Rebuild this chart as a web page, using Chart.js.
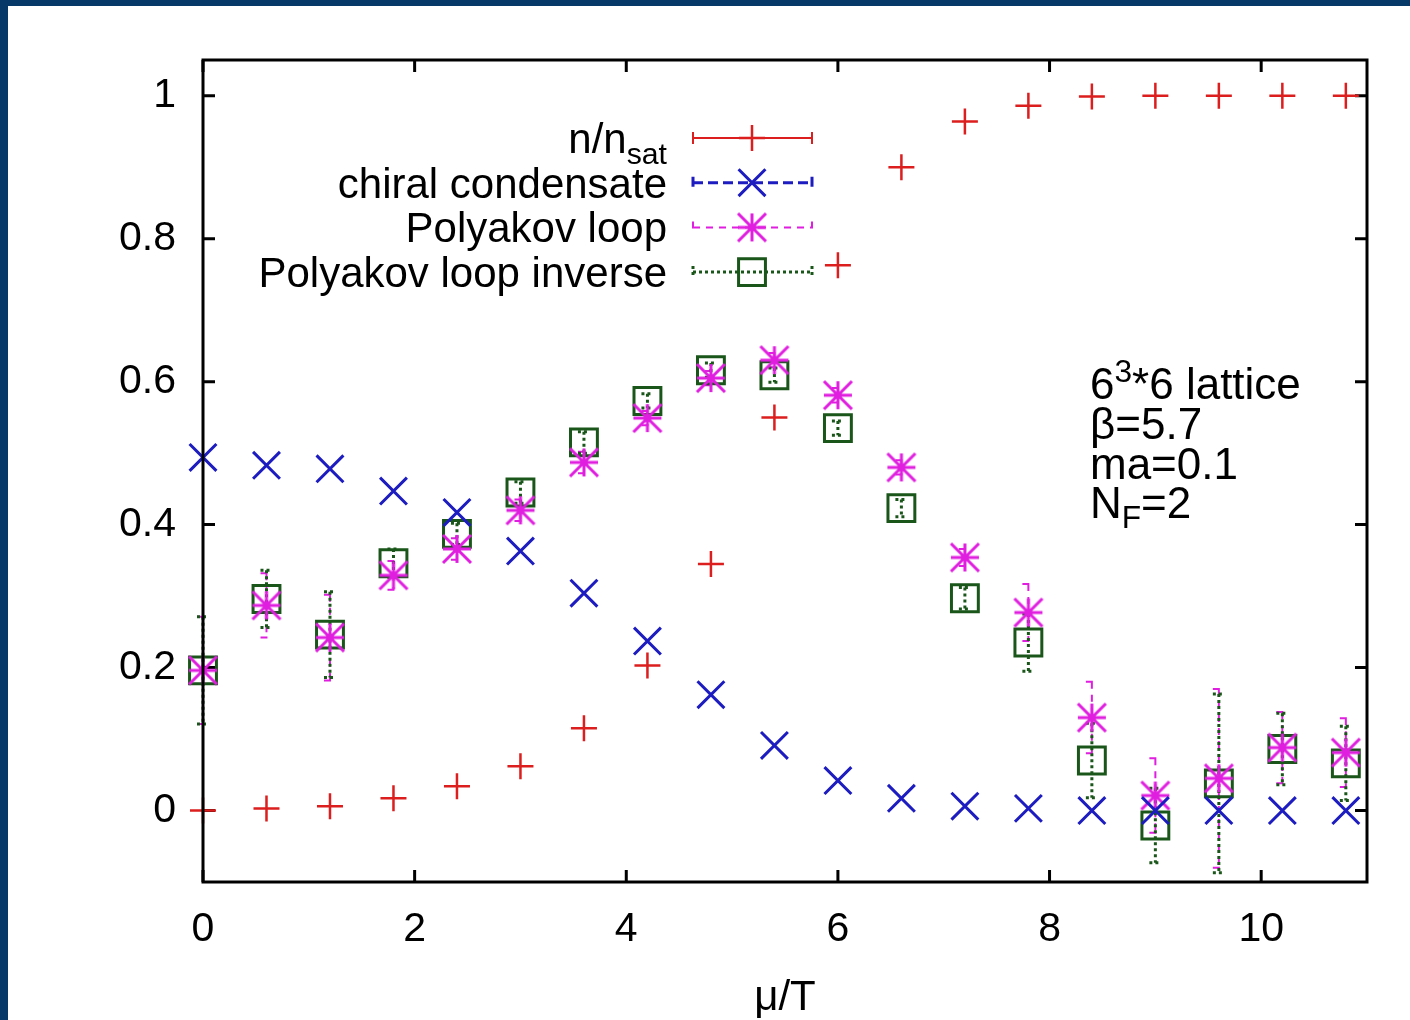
<!DOCTYPE html>
<html>
<head>
<meta charset="utf-8">
<script src="https://cdn.jsdelivr.net/npm/chart.js@4.4.0/dist/chart.umd.min.js"></script>
<style>
  html, body { margin: 0; padding: 0; width: 1410px; height: 1020px; overflow: hidden; background: #063868; }
  #frame { position: absolute; left: 8px; top: 6px; width: 1402px; height: 1014px; background: #fff; }
</style>
</head>
<body>
<div id="frame"><canvas id="myChart" width="1402" height="1014"></canvas></div>
<script>
// mu/T values of the runs
const mu = [0, 0.6, 1.2, 1.8, 2.4, 3.0, 3.6, 4.2, 4.8, 5.4, 6.0, 6.6, 7.2, 7.8, 8.4, 9.0, 9.6, 10.2, 10.8];

const nSat = [0, 0.003, 0.006, 0.017, 0.034, 0.062, 0.115, 0.203, 0.345, 0.55, 0.763, 0.90, 0.964, 0.986, 0.999, 1.0, 1.0, 1.0, 1.0];
const nSatErr = [0, 0, 0, 0, 0, 0, 0, 0, 0, 0, 0, 0, 0, 0, 0, 0, 0, 0, 0];

const chiral = [0.494, 0.483, 0.478, 0.447, 0.417, 0.363, 0.304, 0.237, 0.162, 0.091, 0.042, 0.017, 0.006, 0.003, 0, 0, 0, 0, 0];
const chiralErr = [0, 0, 0, 0, 0, 0, 0, 0, 0, 0, 0, 0, 0, 0, 0, 0, 0, 0, 0];

const poly = [0.196, 0.287, 0.242, 0.329, 0.366, 0.42, 0.487, 0.549, 0.605, 0.63, 0.581, 0.48, 0.354, 0.277, 0.13, 0.021, 0.045, 0.088, 0.081];
const polyErr = [0.075, 0.045, 0.06, 0.02, 0.015, 0.015, 0.015, 0.01, 0.01, 0.01, 0.01, 0.01, 0.012, 0.04, 0.05, 0.052, 0.125, 0.05, 0.048];

const polyInv = [0.196, 0.296, 0.246, 0.346, 0.387, 0.445, 0.515, 0.573, 0.616, 0.609, 0.535, 0.423, 0.297, 0.235, 0.07, -0.021, 0.038, 0.086, 0.066];
const polyInvErr = [0.075, 0.04, 0.06, 0.02, 0.015, 0.015, 0.015, 0.01, 0.01, 0.01, 0.01, 0.012, 0.015, 0.04, 0.052, 0.052, 0.125, 0.05, 0.052];

const seriesNames = ['n/n_sat', 'chiral condensate', 'Polyakov loop', 'Polyakov loop inverse'];
const xTicks = [0, 2, 4, 6, 8, 10];
const yTicks = [0, 0.2, 0.4, 0.6, 0.8, 1];

const FONT = "'Liberation Sans', Arial, Helvetica, sans-serif";

// gnuplot style asterisk: + and x of the same size
let starMarker = function(size, color, lw) {
  const c = document.createElement('canvas');
  c.width = c.height = size + lw * 2;
  const g = c.getContext('2d');
  const m = c.width / 2, h = size / 2;
  g.strokeStyle = color;
  g.lineWidth = lw;
  g.beginPath();
  g.moveTo(m - h, m); g.lineTo(m + h, m);
  g.moveTo(m, m - h); g.lineTo(m, m + h);
  g.moveTo(m - h, m - h); g.lineTo(m + h, m + h);
  g.moveTo(m - h, m + h); g.lineTo(m + h, m - h);
  g.stroke();
  return c;
}

let pairs = (ys) => ys.map((v, i) => ({x: mu[i], y: v}));

// inward ticks go under the marks, error bars too
const errorBars = {
  id: 'errorBars',
  beforeDatasetsDraw(chart) {
    const {ctx, chartArea: a, scales: {x, y}} = chart;
    ctx.save();
    ctx.strokeStyle = '#000';
    ctx.lineWidth = 3;
    ctx.beginPath();
    x.ticks.forEach(t => {
      const px = x.getPixelForValue(t.value);
      ctx.moveTo(px, a.bottom); ctx.lineTo(px, a.bottom - 12);
      ctx.moveTo(px, a.top); ctx.lineTo(px, a.top + 12);
    });
    y.ticks.forEach(t => {
      const py = y.getPixelForValue(t.value);
      ctx.moveTo(a.left, py); ctx.lineTo(a.left + 12, py);
      ctx.moveTo(a.right, py); ctx.lineTo(a.right - 12, py);
    });
    ctx.stroke();
    ctx.restore();

    chart.data.datasets.forEach(ds => {
      ctx.save();
      ctx.strokeStyle = ds.borderColor;
      ctx.lineWidth = ds.errWidth;
      ctx.setLineDash(ds.errDash);
      ds.data.forEach((p, i) => {
        const e = ds.errors[i];
        if (!e) return;
        const px = x.getPixelForValue(p.x);
        const top = y.getPixelForValue(p.y + e), bot = y.getPixelForValue(p.y - e);
        ctx.beginPath();
        ctx.moveTo(px, top); ctx.lineTo(px, bot);
        ctx.moveTo(px - 6, top); ctx.lineTo(px + 6, top);
        ctx.moveTo(px - 6, bot); ctx.lineTo(px + 6, bot);
        ctx.stroke();
      });
      ctx.restore();
    });
  }
};

// box around the plot
const frameBox = {
  id: 'frameBox',
  afterDatasetsDraw(chart) {
    const {ctx, chartArea: a} = chart;
    ctx.save();
    ctx.strokeStyle = '#000';
    ctx.lineWidth = 3;
    ctx.strokeRect(a.left, a.top, a.right - a.left, a.bottom - a.top);
    ctx.restore();
  }
};

// draws runs of text, some raised or lowered and smaller
let drawRuns = function(ctx, runs, x, y, size, align) {
  const width = runs.reduce((w, r) => {
    ctx.font = `${r.shift ? size * 0.72 : size}px ${FONT}`;
    return w + ctx.measureText(r.t).width;
  }, 0);
  let cx = align === 'right' ? x - width : x;
  runs.forEach(r => {
    ctx.font = `${r.shift ? size * 0.72 : size}px ${FONT}`;
    ctx.fillText(r.t, cx, y + (r.shift || 0));
    cx += ctx.measureText(r.t).width;
  });
}

const keyBox = {
  id: 'keyBox',
  afterDraw(chart) {
    const ctx = chart.ctx;
    ctx.save();
    ctx.textBaseline = 'alphabetic';
    chart.data.datasets.forEach((ds, i) => {
      const cy = 132 + i * 44.7;
      const parts = ds.label.split('_');
      const runs = [{t: parts[0]}];
      if (parts[1]) runs.push({t: parts[1], shift: 11});
      ctx.fillStyle = '#000';
      drawRuns(ctx, runs, 659, cy + 15, 42, 'right');
      ctx.strokeStyle = ds.borderColor;
      ctx.lineWidth = ds.errWidth;
      ctx.setLineDash(ds.errDash);
      ctx.beginPath();
      ctx.moveTo(685, cy); ctx.lineTo(804, cy);
      ctx.moveTo(685, cy - 6); ctx.lineTo(685, cy + 6);
      ctx.moveTo(804, cy - 6); ctx.lineTo(804, cy + 6);
      ctx.stroke();
      ctx.setLineDash([]);
      ctx.lineWidth = ds.borderWidth;
      ctx.fillStyle = 'rgba(0,0,0,0)';
      Chart.helpers.drawPoint(ctx, {
        pointStyle: ds.pointStyle, radius: ds.pointRadius, borderWidth: ds.borderWidth, rotation: 0
      }, 744, cy);
    });

    // run parameters
    ctx.fillStyle = '#000';
    drawRuns(ctx, [{t: '6'}, {t: '3', shift: -17}, {t: '*6 lattice'}], 1082, 393, 44);
    drawRuns(ctx, [{t: 'β=5.7'}], 1082, 433, 44);
    drawRuns(ctx, [{t: 'ma=0.1'}], 1082, 473, 44);
    drawRuns(ctx, [{t: 'N'}, {t: 'F', shift: 10}, {t: '=2'}], 1082, 512, 44);
    ctx.restore();
  }
};

let grapharea = document.getElementById('myChart');
let myChart = new Chart(grapharea, {
  type: 'scatter',
  data: {
    datasets: [
      {
        label: seriesNames[0], data: pairs(nSat), errors: nSatErr,
        borderColor: '#dc1e1e', backgroundColor: '#dc1e1e',
        pointStyle: 'cross', pointRadius: 13, borderWidth: 2.5,
        errWidth: 2, errDash: []
      },
      {
        label: seriesNames[1], data: pairs(chiral), errors: chiralErr,
        borderColor: '#1c1cc0', backgroundColor: '#1c1cc0',
        pointStyle: 'crossRot', pointRadius: 19, borderWidth: 3,
        errWidth: 3, errDash: [10, 5]
      },
      {
        label: seriesNames[2], data: pairs(poly), errors: polyErr,
        borderColor: '#e01ee0', backgroundColor: '#e01ee0',
        pointStyle: starMarker(28, '#e01ee0', 3), pointRadius: 15, borderWidth: 3,
        errWidth: 2, errDash: [7, 6]
      },
      {
        label: seriesNames[3], data: pairs(polyInv), errors: polyInvErr,
        borderColor: '#1a561a', backgroundColor: 'rgba(0,0,0,0)',
        pointStyle: 'rect', pointRadius: 19, borderWidth: 3,
        errWidth: 3, errDash: [3, 3]
      }
    ]
  },
  options: {
    responsive: false,
    animation: false,
    events: [],
    clip: false,
    layout: { padding: { left: 0, top: 54, right: 43, bottom: 0 } },
    plugins: { legend: { display: false }, tooltip: { enabled: false } },
    scales: {
      x: {
        type: 'linear', min: 0, max: 11,
        afterBuildTicks: s => { s.ticks = xTicks.map(v => ({value: v})); },
        afterFit: s => { s.height = 138; },
        grid: { display: false, drawTicks: false },
        border: { display: false },
        ticks: { color: '#000', font: { family: FONT, size: 41 }, padding: 23, callback: v => String(v) },
        title: { display: true, text: 'μ/T', color: '#000', font: { family: FONT, size: 42 }, padding: { top: 0, bottom: -4 } }
      },
      y: {
        type: 'linear', min: -0.1, max: 1.05,
        afterBuildTicks: s => { s.ticks = yTicks.map(v => ({value: v})); },
        afterFit: s => { s.width = 195; },
        grid: { display: false, drawTicks: false },
        border: { display: false },
        ticks: { color: '#000', font: { family: FONT, size: 41 }, padding: 27, callback: v => String(v) }
      }
    }
  },
  plugins: [errorBars, frameBox, keyBox]
});
</script>
</body>
</html>
